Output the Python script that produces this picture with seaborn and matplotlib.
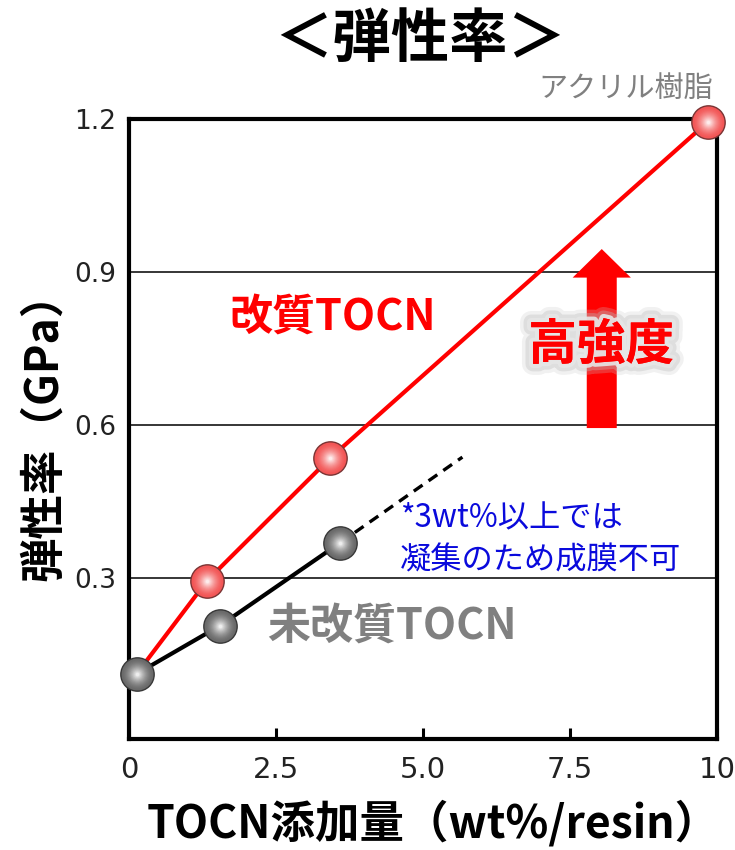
import numpy as np
import pandas as pd
import seaborn as sns
import matplotlib
matplotlib.use("Agg")
import matplotlib.pyplot as plt
import matplotlib.patheffects as pe
from matplotlib.colors import to_rgb

# ---- data -------------------------------------------------------------
modified_x = [0.13, 1.33, 3.42, 9.85]        # 改質TOCN (wt%/resin)
modified_y = [0.112, 0.295, 0.535, 1.195]     # 弾性率 (GPa)

plain_x = [0.13, 1.54, 3.59]                  # 未改質TOCN
plain_y = [0.112, 0.206, 0.369]

trend_x = [3.59, 5.67]                        # extrapolated trend (film not formable)
trend_y = [0.369, 0.537]

x_ticks = [0, 2.5, 5.0, 7.5, 10]
x_tick_labels = ["0", "2.5", "5.0", "7.5", "10"]
y_ticks = [0.3, 0.6, 0.9, 1.2]
y_tick_labels = ["0.3", "0.6", "0.9", "1.2"]

title = "＜弾性率＞"
x_label = "TOCN添加量（wt%/resin）"
y_label = "弾性率（GPa）"

df_mod = pd.DataFrame({"x": modified_x, "y": modified_y})
df_plain = pd.DataFrame({"x": plain_x, "y": plain_y})
df_trend = pd.DataFrame({"x": trend_x, "y": trend_y})

# ---- style ------------------------------------------------------------
sns.set_theme(style="white")
plt.rcParams["font.family"] = ["Noto Sans CJK JP", "DejaVu Sans"]
plt.rcParams["text.color"] = "black"
plt.rcParams["axes.labelcolor"] = "black"

fig = plt.figure(figsize=(7.35, 8.5), dpi=100)
ax = fig.add_axes([129 / 735, 1 - 739 / 850, 588 / 735, 620 / 850])

# lines
sns.lineplot(data=df_mod, x="x", y="y", color="#ff0000", lw=3.0, ax=ax,
             zorder=3, sort=False, estimator=None)
sns.lineplot(data=df_plain, x="x", y="y", color="#000000", lw=3.0, ax=ax,
             zorder=3, sort=False, estimator=None)
sns.lineplot(data=df_trend, x="x", y="y", color="#000000", lw=2.4, ax=ax,
             zorder=3, sort=False, estimator=None, linestyle=(0, (3.2, 2.2)))


def sphere(xs, ys, base, edge, diameter=24, layers=14):
    """Shaded ball markers built from concentric discs."""
    base = np.array(to_rgb(base))
    white = np.array([1.0, 1.0, 1.0])
    sns.scatterplot(x=xs, y=ys, s=diameter ** 2, color=base, edgecolor=edge,
                    linewidth=1.0, ax=ax, zorder=5, legend=False,
                    clip_on=False)
    for i in range(1, layers):
        t = i / layers
        c = base + (white - base) * (t ** 1.6)
        d = diameter * (1 - 0.92 * t) - 1.0
        sns.scatterplot(x=xs, y=ys, s=d ** 2, color=c, linewidth=0,
                        ax=ax, zorder=5 + i * 0.01, legend=False,
                        clip_on=False)


sphere(modified_x[1:], modified_y[1:], "#f25656", "#7a3434")
sphere(plain_x, plain_y, "#6a6a6a", "#383838")

# axes
ax.set_xlim(0, 10)
ax.set_ylim(-0.0157, 1.2)
ax.set_xticks(x_ticks)
ax.set_xticklabels(x_tick_labels, family="DejaVu Sans", fontsize=21,
                   color="#222222")
ax.set_yticks(y_ticks)
ax.set_yticklabels(y_tick_labels, family="DejaVu Sans", fontsize=19,
                   color="#222222")
ax.tick_params(axis="x", direction="in", length=8, width=2.2, pad=12,
               bottom=True, color="black")
ax.tick_params(axis="y", length=0, pad=9)
ax.grid(axis="y", color="black", lw=1.1)
ax.grid(axis="x", visible=False)
for sp in ax.spines.values():
    sp.set_color("black")
    sp.set_linewidth(3.0)
    sp.set_zorder(4)

ax.set_xlabel(x_label, fontsize=32, fontweight="bold")
ax.set_ylabel(y_label, fontsize=32, fontweight="bold")
ax.xaxis.set_label_coords(0.517, -0.1)
ax.yaxis.set_label_coords(-0.105, 0.505)

# arrow + annotations
ax.arrow(8.04, 0.594, 0, 0.351, width=0.51, head_width=0.99,
         head_length=0.056, length_includes_head=True, color="#ff0000",
         lw=0, zorder=6)

ax.text(8.03, 0.757, "高強度", fontsize=35, fontweight="bold",
        color="#ff0000", ha="center", va="center", zorder=7,
        path_effects=[
            pe.withStroke(linewidth=16, foreground="#c8c8c8", alpha=0.25),
            pe.withStroke(linewidth=11, foreground="#bdbdbd", alpha=0.35),
            pe.withStroke(linewidth=6, foreground="#e6e6e6", alpha=0.9),
            pe.Normal()])

ax.text(3.47, 0.812, "改質TOCN", fontsize=31, fontweight="bold",
        color="#ff0000", ha="center", va="center", zorder=7)
ax.text(4.47, 0.206, "未改質TOCN", fontsize=31, fontweight="bold",
        color="#808080", ha="center", va="center", zorder=7)
ax.text(4.63, 0.416, "*3wt%以上では", fontsize=22.5, color="#0a0adc",
        ha="left", va="center", zorder=7)
ax.text(4.60, 0.335, "凝集のため成膜不可", fontsize=22.5, color="#0a0adc",
        ha="left", va="center", zorder=7)
ax.text(9.93, 1.258, "アクリル樹脂", fontsize=21, color="#808080",
        ha="right", va="center", zorder=7, clip_on=False)

fig.text(420 / 735, 1 - 40 / 850, title, fontsize=42, fontweight="bold",
         ha="center", va="center")

fig.savefig("out.png", dpi=100)
